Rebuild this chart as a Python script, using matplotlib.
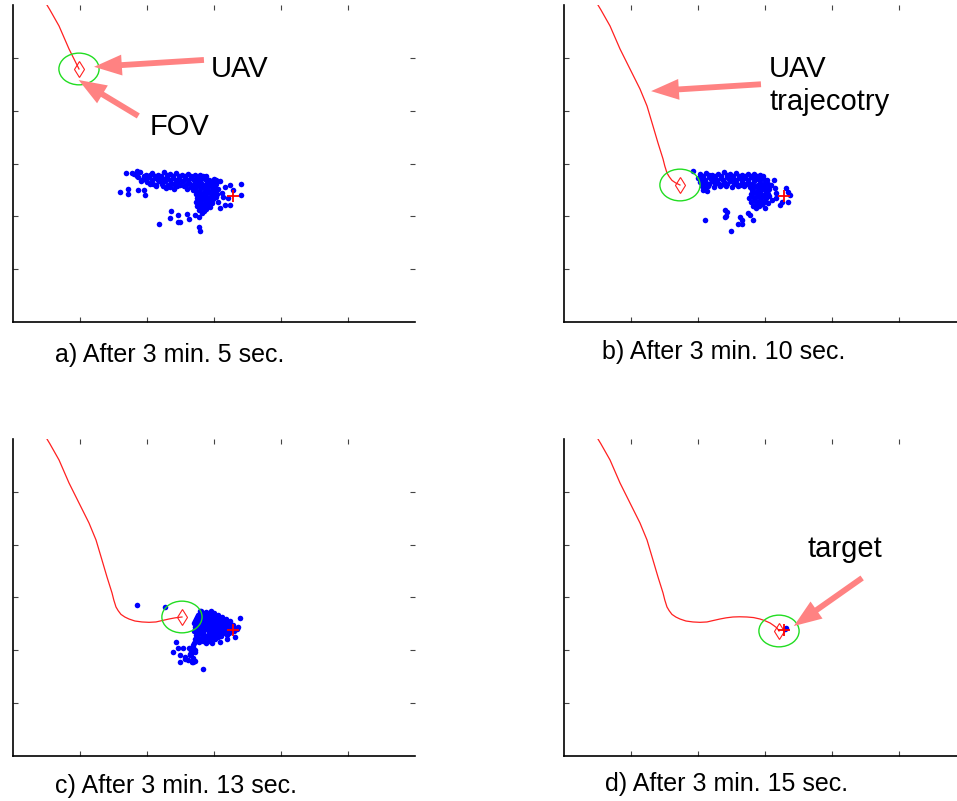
import matplotlib
matplotlib.use('Agg')
import matplotlib.pyplot as plt
from matplotlib.patches import Ellipse

plt.rcParams['font.family'] = ['Liberation Sans', 'DejaVu Sans']

# UAV trajectory (m), the same path in all four snapshots
traj_x = [50.7, 55, 68.7, 83.6, 98.5, 113.4, 123.9, 132.8, 140.3, 147.8, 150.5, 153.7,
          157, 161.2, 167, 173.1, 182, 192.5, 203, 213.4, 223, 232.8, 242, 252.2,
          262, 273.1, 283, 292.5, 300, 307.5, 313, 317.9, 320.9]
traj_y = [600, 591, 560.3, 516.8, 478.9, 441.1, 408.9, 371.0, 338.8, 308.6, 295, 282.1,
          275, 268, 263, 259.3, 255.5, 253.7, 253, 253.7, 256.5, 259.3, 261.5, 263.1,
          263.5, 263.1, 262, 259.3, 256, 251.8, 247, 242.3, 236.6]
# last trajectory index reached in each snapshot
uav_index = [4, 15, 23, 32]
fov_radius = 30
target_x = 328
target_y = 238

captions = ['a) After 3 min. 5 sec.', 'b) After 3 min. 10 sec.',
            'c) After 3 min. 13 sec.', 'd) After 3 min. 15 sec.']

# particle filter samples for each snapshot
particles_a = [
    (168, 282), (177, 282), (185, 285), (159, 247), (171, 251), (171, 242), (187, 250),
    (197, 240), (195, 250), (218, 185), (236, 210), (234, 196), (247, 203), (247, 190),
    (250, 190), (260, 204), (263, 195), (272, 203), (277, 199), (278, 179), (279, 173),
    (309, 267), (316, 256), (324, 259), (341, 261), (341, 240), (328, 250), (314, 237),
    (316, 222), (309, 215), (294, 218), (306, 228), (321, 234), (324, 222), (312, 244),
    (181, 280), (190, 283), (199, 278), (207, 282), (216, 279), (225, 283), (234, 280),
    (243, 282), (252, 279), (261, 281), (272, 278), (279, 279), (288, 276),
    (185, 277), (195, 276), (204, 278), (212, 276), (221, 277), (230, 278), (239, 276),
    (248, 277), (257, 276), (266, 277), (276, 275), (284, 276),
    (186, 274), (194, 271), (203, 275), (212, 272), (221, 270), (230, 274), (239, 272),
    (248, 270), (257, 273), (266, 272), (275, 270), (284, 273), (293, 269), (300, 271),
    (191, 267), (198, 268), (207, 269), (216, 268), (225, 270), (234, 268), (243, 269),
    (252, 267), (261, 269), (270, 268), (279, 267), (288, 268), (296, 266), (303, 268),
    (200, 265), (209, 262), (218, 266), (227, 267), (236, 263), (245, 265), (254, 266),
    (263, 263), (272, 265), (281, 264), (290, 262), (299, 264), (305, 266),
    (205, 261), (214, 260), (222, 262), (231, 260), (240, 261), (250, 260), (259, 261),
    (268, 260), (277, 261), (286, 259), (295, 260), (303, 261),
    (213, 257), (224, 258), (234, 255), (245, 257), (255, 258), (266, 255), (275, 257),
    (284, 256), (293, 258), (302, 255),
    (229, 253), (240, 252), (260, 252), (271, 253), (280, 253), (289, 252), (298, 253),
    (306, 252),
    (269, 250), (278, 248), (287, 251), (296, 248), (303, 250),
    (274, 246), (283, 245), (292, 246), (300, 245),
    (273, 242), (281, 240), (288, 243), (297, 240), (305, 242),
    (277, 238), (286, 238), (295, 238), (303, 237),
    (275, 235), (284, 233), (291, 235), (299, 232),
    (279, 230), (287, 231), (294, 230),
    (273, 227), (281, 225), (290, 228), (297, 225),
    (278, 223), (287, 223), (294, 223),
    (275, 220), (284, 218), (291, 220), (281, 215), (288, 214),
    (278, 212), (285, 210), (282, 207),
]
particles_b = [
    (192, 285), (210, 194), (240, 212), (243, 209), (240, 199), (249, 172), (262, 199),
    (265, 193), (259, 185), (266, 186), (275, 206), (278, 203), (282, 194), (300, 215),
    (293, 222), (305, 225), (309, 259), (315, 253), (317, 244), (317, 234), (310, 231),
    (325, 228), (332, 253), (335, 247), (337, 240), (335, 228), (322, 222), (313, 269),
    (303, 269), (242, 201),
    (203, 280), (212, 282), (221, 279), (230, 281), (239, 283), (248, 280), (257, 282),
    (266, 279), (275, 281), (284, 280), (293, 278),
    (207, 277), (216, 278), (225, 276), (234, 277), (243, 278), (252, 276), (261, 277),
    (270, 276), (279, 277), (288, 276), (297, 276),
    (200, 273), (207, 272), (216, 274), (225, 271), (234, 273), (243, 274), (252, 271),
    (261, 273), (270, 272), (279, 274), (288, 271), (297, 272),
    (204, 269), (211, 268), (220, 270), (229, 268), (238, 269), (247, 270), (256, 268),
    (265, 269), (274, 268), (283, 270), (292, 268), (300, 269),
    (203, 265), (212, 264), (221, 266), (230, 263), (239, 265), (248, 266), (257, 264),
    (266, 265), (275, 263), (284, 266), (293, 264), (302, 265),
    (206, 261), (217, 261), (226, 262), (235, 260), (244, 261), (253, 262), (262, 260),
    (271, 261), (280, 262), (289, 260), (298, 261), (305, 261),
    (206, 257), (215, 258), (224, 256), (233, 258), (242, 257), (251, 255), (260, 257),
    (269, 258), (278, 256), (287, 257), (296, 258), (303, 256),
    (210, 253), (282, 253), (291, 253), (300, 253), (306, 252),
    (207, 250), (213, 248), (280, 250), (289, 249), (297, 251), (304, 249),
    (284, 246), (293, 246), (301, 246),
    (279, 242), (288, 243), (297, 241), (305, 243),
    (281, 238), (290, 238), (299, 238), (306, 238),
    (276, 235), (285, 234), (294, 236), (302, 234),
    (283, 231), (292, 231), (300, 230),
    (279, 227), (288, 228), (297, 226),
    (286, 223), (295, 223),
    (282, 220), (291, 219), (287, 216),
]
particles_c = [
    (185, 285), (227, 282), (279, 275), (339, 261), (331, 226), (243, 216), (284, 165),
    (249, 177), (239, 197), (247, 204), (254, 204), (262, 204), (264, 194), (257, 188),
    (249, 191), (272, 179), (309, 215), (319, 221), (329, 244), (336, 245), (257, 184),
    (269, 177),
    (281, 275), (288, 273), (296, 275),
    (279, 271), (286, 270), (293, 271), (300, 270),
    (276, 267), (284, 266), (291, 268), (299, 266), (306, 267),
    (274, 263), (282, 263), (290, 264), (297, 263), (305, 263), (312, 264),
    (273, 259), (281, 260), (288, 258), (296, 260), (303, 258), (310, 260), (318, 259),
    (271, 255), (279, 256), (287, 255), (294, 256), (302, 255), (309, 256), (317, 255),
    (324, 256),
    (270, 252), (278, 251), (285, 253), (293, 251), (300, 252), (308, 253), (315, 251),
    (322, 252),
    (275, 248), (283, 248), (290, 249), (298, 248), (305, 247), (312, 248), (320, 248),
    (328, 248),
    (272, 244), (279, 245), (287, 243), (294, 245), (302, 244), (309, 243), (316, 245),
    (325, 244),
    (274, 240), (282, 241), (289, 241), (297, 240), (304, 241), (312, 240), (319, 240),
    (326, 240), (334, 240),
    (270, 237), (278, 236), (285, 238), (293, 236), (300, 237), (308, 238), (315, 236),
    (322, 237), (330, 236),
    (276, 233), (284, 233), (292, 233), (299, 233), (307, 233), (314, 232), (322, 233),
    (273, 229), (281, 230), (288, 228), (296, 229), (303, 230), (310, 228), (319, 229),
    (275, 225), (283, 226), (291, 225), (299, 226), (306, 225),
    (272, 222), (279, 221), (287, 223), (294, 222), (302, 221),
    (274, 218), (283, 218), (292, 218),
    (270, 214), (278, 215), (288, 213), (297, 214),
    (268, 210), (269, 206), (266, 199), (272, 201), (271, 196), (266, 194), (264, 191),
    (269, 186), (261, 182), (267, 178),
]
particles_d = [(331, 242), (330, 240)]
all_particles = [particles_a, particles_b, particles_c, particles_d]

arrow_col = '#FF8282'

fig = plt.figure(figsize=(9.57, 8.01), dpi=100)
boxes = [[0.01358, 0.59800, 0.42006, 0.39576],
         [0.58934, 0.59800, 0.42006, 0.39576],
         [0.01358, 0.05618, 0.42006, 0.39576],
         [0.58934, 0.05618, 0.42006, 0.39576]]
cap_pos = [(0.1045, -0.126), (0.0945, -0.117), (0.1045, -0.116), (0.102, -0.110)]

axes = []
for i in range(4):
    ax = fig.add_axes(boxes[i])
    axes.append(ax)
    px = [p[0] for p in all_particles[i]]
    py = [p[1] for p in all_particles[i]]
    ax.plot(px, py, 'o', color='#0000FF', ms=4.0, mew=0, zorder=2)

    k = uav_index[i]
    ax.plot(traj_x[:k + 1], traj_y[:k + 1], color='#FF2020', lw=0.9, zorder=3)
    ax.add_patch(Ellipse((traj_x[k], traj_y[k]), 2 * fov_radius, 2 * fov_radius,
                         fill=False, edgecolor='#22DD22', lw=1.0, zorder=4))
    ax.plot(traj_x[k], traj_y[k], 'd', ms=8, mfc='none', mec='#FF2020', mew=0.8, zorder=5)
    ax.plot(target_x, target_y, '+', ms=8, color='#FF0000', mew=1.3, zorder=6)

    ax.set_xlim(0, 600)
    ax.set_ylim(0, 600)
    ax.set_xticks([100, 200, 300, 400, 500])
    ax.set_yticks([100, 200, 300, 400, 500])
    ax.set_xticklabels([])
    ax.set_yticklabels([])
    ax.tick_params(direction='in', top=True, right=True, length=3.6, width=0.8,
                   color='#444444')
    ax.spines['top'].set_visible(False)
    ax.spines['right'].set_visible(False)
    ax.spines['left'].set_linewidth(1.2)
    ax.spines['bottom'].set_linewidth(1.2)
    ax.text(cap_pos[i][0], cap_pos[i][1], captions[i], transform=ax.transAxes,
            fontsize=18, va='baseline', ha='left')

aprops = dict(arrowstyle='simple,head_length=2.0,head_width=1.5,tail_width=0.42',
              mutation_scale=10, color=arrow_col, lw=0, shrinkA=0, shrinkB=0)

ax = axes[0]
ax.annotate('', xy=(121, 483), xytext=(285, 496), arrowprops=aprops, zorder=7)
ax.annotate('', xy=(98, 458), xytext=(187, 390), arrowprops=aprops, zorder=7)
ax.text(295, 464, 'UAV', fontsize=21, va='baseline')
ax.text(204, 354, 'FOV', fontsize=21, va='baseline')

ax = axes[1]
ax.annotate('', xy=(130, 437), xytext=(294, 450), arrowprops=aprops, zorder=7)
ax.text(306, 464, 'UAV', fontsize=21, va='baseline')
ax.text(306, 401, 'trajecotry', fontsize=21, va='baseline')

ax = axes[3]
ax.annotate('', xy=(343, 246), xytext=(445, 337), arrowprops=aprops, zorder=7)
ax.text(363, 377, 'target', fontsize=21, va='baseline')

fig.savefig('out.png', dpi=100)
